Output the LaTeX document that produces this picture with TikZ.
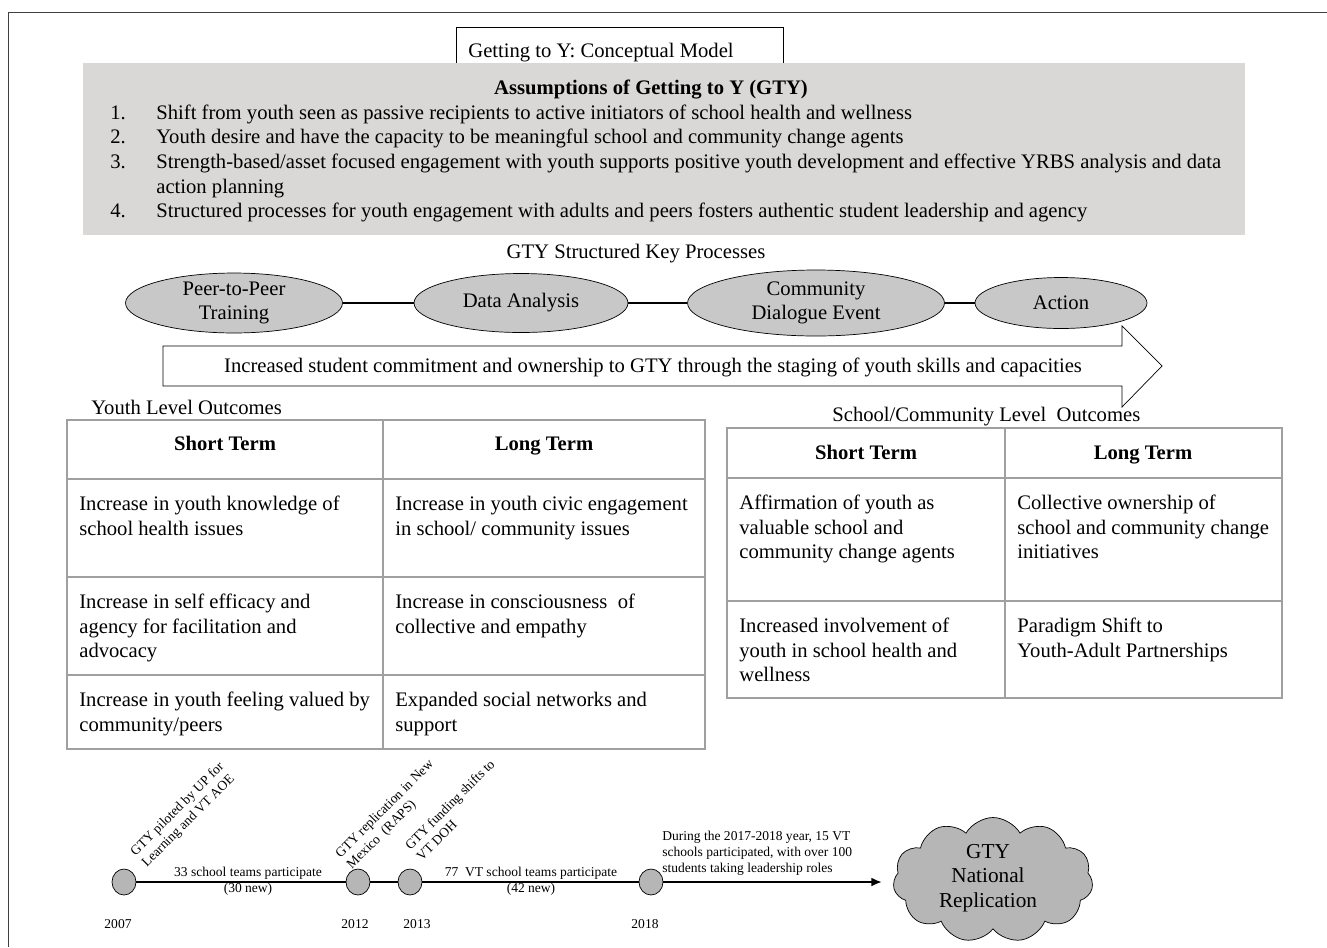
\documentclass[tikz,border=0pt]{standalone}
\usepackage{fontspec}
\setmainfont{Liberation Serif}
\usetikzlibrary{shapes.geometric,shapes.symbols,arrows.meta,positioning}

\definecolor{boxgray}{RGB}{217,216,214}
\definecolor{ovalgray}{RGB}{200,200,200}
\definecolor{dotgray}{RGB}{182,182,182}
\definecolor{rulegray}{RGB}{160,160,160}

\tikzset{
  body/.style={font=\fontsize{11.75}{13.9}\selectfont, inner sep=0pt},
  line/.style={body, anchor=base west},
  small/.style={font=\fontsize{7.7}{9.1}\selectfont, inner sep=0pt},
  oval/.style={ellipse, draw, fill=ovalgray, inner sep=0pt, align=center, body},
  cell/.style={body, align=left, anchor=north west},
  head/.style={body, font=\fontsize{11.75}{13.9}\selectfont\bfseries, anchor=base},
  dot/.style={ellipse, draw, fill=dotgray, minimum width=0.48cm, minimum height=0.52cm, inner sep=0pt},
  tab/.style={draw=rulegray, line width=1.1pt},
  event/.style={small, align=left, rotate=45, anchor=south west},
}

\begin{document}
\begin{tikzpicture}[x=0.02cm, y=-0.02cm]
    \useasboundingbox (0,0) rectangle (1327,947);

    % frame
    \draw[darkgray] (8,947) -- (8,12) -- (1327,12);

    % title box
    \draw (456,63) -- (456,27) -- (783,27) -- (783,63);
    \node[line] (title) at (468,57) {Getting to Y: Conceptual Model};

    % assumptions
    \fill[boxgray] (83,63) rectangle (1245,235);
    \node[head] (assum) at (651,94) {Assumptions of Getting to Y (GTY)};
    \foreach \i/\y in {1/119,2/143,3/168,4/217}
        \node[line] (num\i) at (110,\y) {\i.};
    \node[line] (as1) at (156,119) {Shift from youth seen as passive recipients to active initiators of school health and wellness};
    \node[line] (as2) at (156,143) {Youth desire and have the capacity to be meaningful school and community change agents};
    \node[cell] (as3) at (156,153.7) {Strength-based/asset focused engagement with youth supports positive youth development and effective YRBS analysis and data\\action planning};
    \node[line] (as4) at (156,217) {Structured processes for youth engagement with adults and peers fosters authentic student leadership and agency};

    % key processes
    \node[body, anchor=base] (keyproc) at (636,258) {GTY Structured Key Processes};
    \node[oval, minimum width=4.34cm, minimum height=1.14cm] (peer) at (234,303) {Peer-to-Peer\\Training};
    \node[oval, minimum width=4.28cm, minimum height=1.18cm] (data) at (521,303) {Data Analysis};
    \node[oval, minimum width=5.14cm, minimum height=1.32cm] (comm) at (816,303) {Community\\Dialogue Event};
    \node[oval, minimum width=3.44cm, minimum height=1.02cm] (action) at (1061,303) {Action};
    \draw[semithick] (peer) -- (data);
    \draw[semithick] (data) -- (comm);
    \draw[semithick] (comm) -- (action);

    % big arrow
    \draw (163,346) -- (1122,346) -- (1122,326) -- (1162,366) -- (1122,407) -- (1122,386) -- (163,386) -- cycle;
    \node[body, anchor=base] (commit) at (653,372) {Increased student commitment and ownership to GTY through the staging of youth skills and capacities};

    % youth level outcomes
    \node[line] (youthlbl) at (91,414) {Youth Level Outcomes};
    \draw[tab] (67,420) rectangle (705,749);
    \draw[tab] (383,420) -- (383,749);
    \foreach \y in {479,577,675}
        \draw[tab] (67,\y) -- (705,\y);
    \node[head] (yshort) at (225,450) {Short Term};
    \node[head] (ylong) at (544,450) {Long Term};
    \node[cell] (ys1) at (79,496) {Increase in youth knowledge of\\school health issues};
    \node[cell] (yl1) at (395,496) {Increase in youth civic engagement\\in school/ community issues};
    \node[cell] (ys2) at (79,594) {Increase in self efficacy and\\agency for facilitation and\\advocacy};
    \node[cell] (yl2) at (395,594) {Increase in consciousness\ \ of\\collective and empathy};
    \node[cell] (ys3) at (79,692) {Increase in youth feeling valued by\\community/peers};
    \node[cell] (yl3) at (395,692) {Expanded social networks and\\support};

    % school/community level outcomes
    \node[line] (schoollbl) at (832,421) {School/Community Level\ \ Outcomes};
    \draw[tab] (727,428) rectangle (1282,698);
    \draw[tab] (1005,428) -- (1005,698);
    \foreach \y in {478,601}
        \draw[tab] (727,\y) -- (1282,\y);
    \node[head] (sshort) at (866,459) {Short Term};
    \node[head] (slong) at (1143,459) {Long Term};
    \node[cell] (ss1) at (739,495) {Affirmation of youth as\\valuable school and\\community change agents};
    \node[cell] (sl1) at (1017,495) {Collective ownership of\\school and community change\\initiatives};
    \node[cell] (ss2) at (739,618) {Increased involvement of\\youth in school health and\\wellness};
    \node[cell] (sl2) at (1017,618) {Paradigm Shift to\\Youth-Adult Partnerships};

    % timeline
    \node[dot] (y2007) at (124,882) {};
    \node[dot] (y2012) at (358,882) {};
    \node[dot] (y2013) at (410,882) {};
    \node[dot] (y2018) at (651,882) {};
    \coordinate (tlend) at (882,882);
    \draw[line width=1.3pt] (y2007) -- (y2012);
    \draw[line width=1.3pt] (y2012) -- (y2013);
    \draw[line width=1.3pt] (y2013) -- (y2018);
    \draw[line width=1.3pt, -{Latex[length=6pt,width=5pt]}] (y2018) -- (tlend);

    \node[small] (t2007) at (118,924) {2007};
    \node[small] (t2012) at (355,924) {2012};
    \node[small] (t2013) at (417,924) {2013};
    \node[small] (t2018) at (645,924) {2018};

    \node[small, align=center] (seg1) at (248,881) {33 school teams participate\\(30 new)};
    \node[small, align=center] (seg2) at (531,881) {77\ \ VT school teams participate\\(42 new)};

    \node[event] (ev2007) at (149,870) {GTY piloted by UP for\\Learning and VT AOE};
    \node[event] (ev2012) at (354,872) {GTY replication in New\\Mexico\ \ (RAPS)};
    \node[event] (ev2013) at (422,862) {GTY funding shifts to\\VT DOH};
    \node[small, align=left, anchor=north west] (ev2018) at (662,831) {During the 2017-2018 year, 15 VT\\schools participated, with over 100\\students taking leadership roles};

    % national replication
    \node[cloud, draw, fill=dotgray, cloud puffs=11, cloud puff arc=120, aspect=1.6, minimum width=4.0cm, minimum height=2.5cm, inner sep=0pt] (natl) at (993,880) {};
    \node[align=center, inner sep=0pt, font=\fontsize{12.1}{13.9}\selectfont] (natltext) at (988,878) {GTY\\National\\Replication};

\end{tikzpicture}
\end{document}
